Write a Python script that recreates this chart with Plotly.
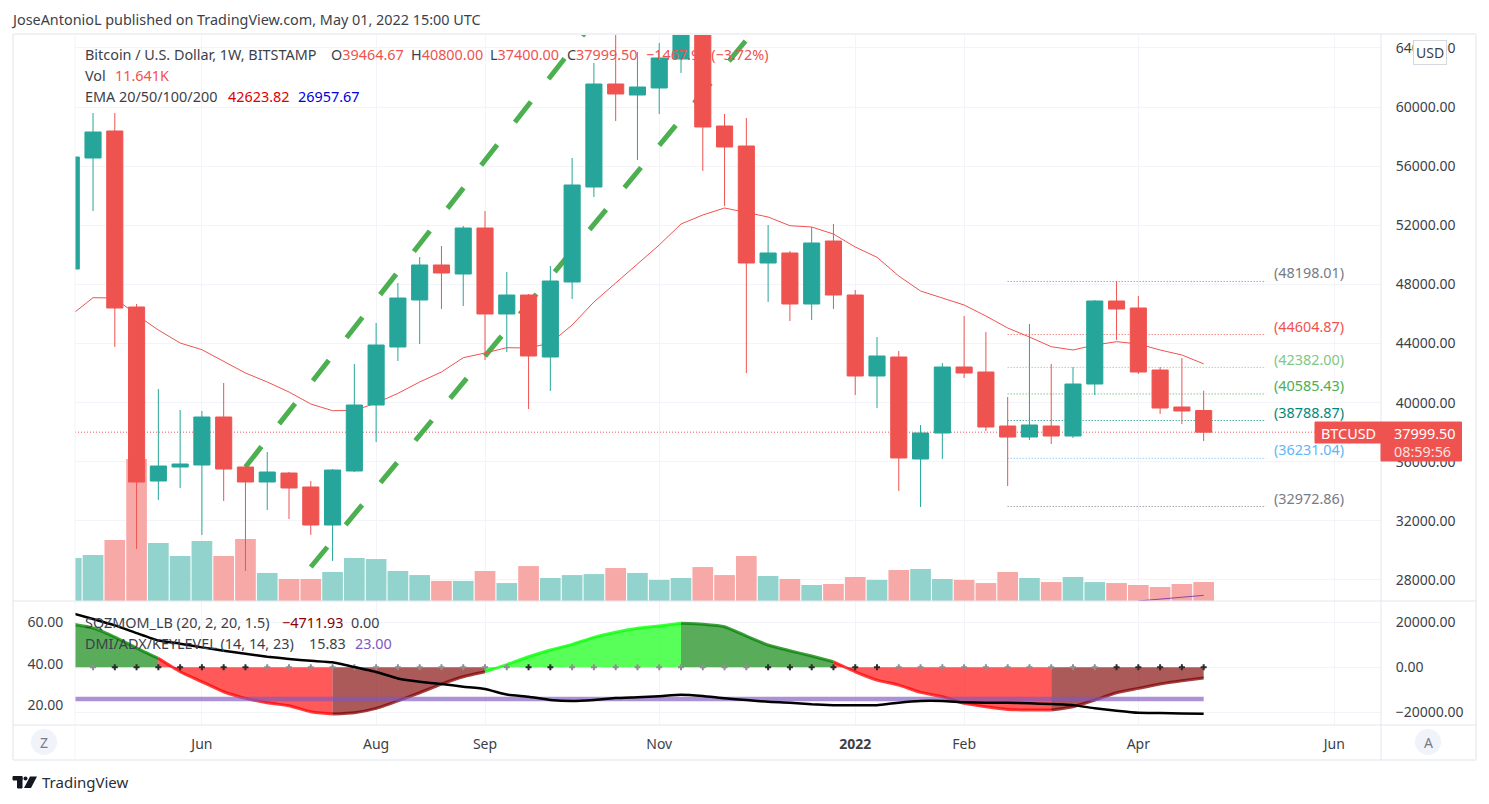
import numpy as np
from plotly.subplots import make_subplots
import plotly.graph_objects as go

FONT = "Noto Sans"
UP = "#26a69a"
DOWN = "#ef5350"
GRID = "#f2f4f9"
EDGE = "#e4e6ec"
TEXT = "#3c3f4a"

# open, high, low, close of every week, first one starts 2021-04-26
candles = [
    (49039, 57000, 48000, 56617), (56549, 59594, 52963, 58309), (58376, 59594, 43762, 46400),
    (46468, 46671, 30094, 34627), (34695, 40920, 33410, 35710), (35642, 39499, 34222, 35845),
    (35778, 39431, 31042, 39025), (39025, 41326, 33342, 35507), (35642, 35778, 28606, 34627),
    (34627, 36657, 32733, 35304), (35236, 35304, 32124, 34222), (34290, 34695, 31042, 31718),
    (31718, 35500, 29284, 35439), (35372, 42611, 35304, 39837), (39837, 45385, 37334, 43897),
    (43762, 48092, 42814, 47077), (46942, 49851, 43965, 49310), (49310, 50595, 46333, 48768),
    (48701, 51949, 46535, 51813), (51813, 52963, 42882, 45994), (45994, 48836, 43423, 47280),
    (47280, 47348, 39567, 43153), (43085, 49242, 40785, 48227), (48160, 56549, 47009, 54723),
    (54587, 62977, 53911, 61556), (61556, 66900, 59053, 60880), (60812, 63721, 56414, 61353),
    (61286, 64330, 59526, 63315), (63248, 66000, 62300, 65500), (65500, 69000, 55670, 58647),
    (58714, 59526, 53302, 57294), (57361, 59256, 42002, 49445), (49445, 52016, 46806, 50122),
    (50122, 50257, 45521, 46671), (46671, 51881, 45589, 50798), (50933, 52084, 46333, 47280),
    (47280, 47618, 40514, 41800), (41800, 44438, 39634, 43153), (43085, 43491, 34019, 36252),
    (36184, 38484, 32936, 37943), (37943, 42679, 36184, 42408), (42408, 45859, 41664, 42002),
    (42070, 44776, 38078, 38349), (38416, 40379, 34357, 37672), (37672, 45318, 37469, 38484),
    (38416, 42611, 37199, 37740), (37740, 42408, 37604, 41258), (41258, 46942, 40514, 46874),
    (46874, 48227, 44236, 46333), (46400, 47212, 41935, 42070), (42205, 42408, 39229, 39634),
    (39702, 43017, 38552, 39431), (39464.67, 40800, 37400, 37999.50),
]
volume = [26.3, 28.2, 37.4, 87.0, 35.5, 27.6, 36.8, 27.6, 38.0, 17.2, 13.5, 13.5, 17.8,
          26.3, 25.7, 18.4, 15.9, 12.3, 12.3, 18.4, 11.0, 21.4, 14.1, 15.9, 16.5, 20.2,
          17.2, 12.9, 14.1, 20.8, 15.9, 27.6, 15.3, 13.5, 9.8, 10.4, 14.7, 12.9, 19.0,
          19.6, 13.5, 12.9, 11.0, 17.8, 14.1, 11.6, 14.7, 11.6, 11.0, 9.8, 8.6, 10.4, 11.641]
ema20 = [45927, 47097, 47077, 45927, 44912, 44032, 43579, 42815, 42002, 41394, 40717, 39905,
         39452, 39465, 39973, 40622, 41394, 42070, 43037, 43356, 43714, 43694, 44032, 45250,
         46807, 48092, 49377, 50663, 52084, 52693, 53166, 52850, 52557, 51969, 51881, 51407,
         50528, 49831, 48565, 47551, 47077, 46603, 45859, 45047, 44438, 43782, 43559, 43897,
         44121, 43965, 43559, 43220, 42623.82]
momentum = [19243, 17466, 13465, 8577, 4000, -1955, -6400, -10844, -13776, -15732, -17065,
            -19731, -20753, -20176, -18220, -14843, -11288, -7421, -4177, -1955, 1244, 4711,
            7688, 10221, 13332, 15554, 17332, 18354, 19554, 19110, 18043, 13910, 9910, 7377,
            5022, 2489, -1955, -5644, -7866, -11110, -13065, -15998, -17509, -18665, -18976,
            -18976, -17509, -14532, -11288, -9332, -7421, -5955, -4711.93]
adx = [64.5, 61.6, 58.5, 54.8, 51.2, 49.7, 47.9, 46.3, 44.8, 43.4, 42.3, 41.4, 40.7, 38.4,
       36.0, 32.9, 31.3, 30.2, 28.9, 27.8, 25.1, 24.1, 22.5, 22.0, 22.5, 23.4, 23.8, 24.3,
       25.0, 24.4, 23.3, 22.5, 21.6, 21.2, 20.4, 20.0, 20.0, 20.0, 21.2, 22.0, 22.0, 21.4,
       21.2, 21.2, 20.9, 20.5, 20.0, 18.5, 17.3, 16.3, 16.2, 16.0, 15.83]
# 1 black cross, 0 grey cross
squeeze = [0, 0, 1, 1, 1, 1, 1, 1, 1, 0, 0, 0, 0, 0, 0, 0, 0, 0, 0, 0, 0, 1, 1, 0, 0, 0, 0, 0,
           0, 0, 0, 0, 1, 1, 1, 1, 1, 1, 0, 0, 0, 0, 0, 0, 0, 0, 0, 0, 1, 1, 1, 1, 1]
# first, last index and colours of the momentum area
runs = [(0, 4, "0,128,0"), (4, 12, "255,0,0"), (12, 19, "128,0,0"), (19, 28, "0,255,0"),
        (28, 35, "0,128,0"), (35, 45, "255,0,0"), (45, 52, "128,0,0")]
levels = [(48198.01, "#787b86"), (44604.87, "#ef5350"), (42382.00, "#81c784"),
          (40585.43, "#4caf50"), (38788.87, "#00897b"), (36231.04, "#64b5f6"),
          (32972.86, "#787b86")]
month_ticks = ["2021-06-07", "2021-08-02", "2021-09-06", "2021-11-01", "2022-01-03",
               "2022-02-07", "2022-04-04", "2022-06-06"]
month_names = ["Jun", "Aug", "Sep", "Nov", "<b>2022</b>", "Feb", "Apr", "Jun"]


def px(x):
    return (x - 8) / 1473


def py(y):
    return 1 - (y - 8) / 788


def note(fig, x, y, text, color=TEXT, size=14.4, anchor="left"):
    fig.add_annotation(xref="paper", yref="paper", x=px(x), y=py(y), text=text, showarrow=False,
                       xanchor=anchor, yanchor="middle", xshift=-2 if anchor == "left" else 0,
                       font=dict(family=FONT, size=size, color=color))


def box(fig, x0, y0, x1, y1, color, line=None):
    fig.add_shape(type="rect", xref="paper", yref="paper", x0=px(x0), y0=py(y0), x1=px(x1),
                  y1=py(y1), fillcolor=color, line=dict(color=line or color, width=1))


def rule(fig, x0, y0, x1, y1, width=1, color=EDGE):
    fig.add_shape(type="line", xref="paper", yref="paper", x0=px(x0), y0=py(y0), x1=px(x1),
                  y1=py(y1), line=dict(color=color, width=width))


def plot_chart(weeks):
    x_start, x_end = "2021-04-27 05:00", "2022-06-21"
    opens, highs, lows, closes = zip(*candles)
    fig = make_subplots(rows=2, cols=1, shared_xaxes=True, vertical_spacing=0)

    # volume stays at the back, the candles go on an overlay so they cover the lines
    fig.add_trace(go.Bar(x=weeks, y=volume, yaxis="y", xaxis="x",
                         marker=dict(color=["#92d3cd" if c >= o else "#f7a9a7"
                                            for o, c in zip(opens, closes)], line_width=0)))
    for level, color in levels:
        fig.add_trace(go.Scatter(x=["2022-02-21", "2022-05-15"], y=[level, level], yaxis="y3",
                                 xaxis="x", mode="lines",
                                 line=dict(color=color, width=1, dash="1px,2px")))
    fig.add_trace(go.Scatter(x=[x_start, x_end], y=[37999.50, 37999.50], yaxis="y3", xaxis="x",
                             mode="lines", line=dict(color=DOWN, width=1, dash="1px,2px")))
    # the two trend lines
    for x_pair, y_pair in [(["2021-06-21", "2021-10-11"], [35642, 65819]),
                           (["2021-07-12", "2021-11-29"], [28876, 64533])]:
        fig.add_trace(go.Scatter(x=x_pair, y=y_pair, yaxis="y3", xaxis="x", mode="lines",
                                 line=dict(color="#4caf50", width=5, dash="26px,28.7px")))
    fig.add_trace(go.Scatter(x=weeks, y=ema20, yaxis="y3", xaxis="x", mode="lines",
                             line=dict(color=DOWN, width=1)))
    fig.add_trace(go.Scatter(x=weeks[49:], y=[26578, 26710, 26847, 26957.67], yaxis="y3",
                             xaxis="x", mode="lines", line=dict(color="#8e44ad", width=1)))
    fig.add_trace(go.Candlestick(x=weeks, open=opens, high=highs, low=lows, close=closes,
                                 yaxis="y4", xaxis="x", whiskerwidth=0,
                                 increasing=dict(line=dict(color=UP, width=1), fillcolor=UP),
                                 decreasing=dict(line=dict(color=DOWN, width=1), fillcolor=DOWN)))

    # lower pane
    for first, last, rgb in runs:
        fig.add_trace(go.Scatter(x=weeks[first:last + 1], y=momentum[first:last + 1], yaxis="y2",
                                 xaxis="x2", mode="lines", fill="tozeroy",
                                 fillcolor=f"rgba({rgb},0.65)",
                                 line=dict(color=f"rgba({rgb},0.75)", width=3, shape="spline",
                                           smoothing=0.5)))
    fig.add_trace(go.Scatter(x=weeks, y=[0] * len(weeks), yaxis="y2", xaxis="x2", mode="markers",
                             marker=dict(symbol="cross", size=5, line_width=0,
                                         color=["#2b2b2b" if s else "#8f8f8f" for s in squeeze])))
    fig.add_trace(go.Scatter(x=[x_start, weeks[-1]], y=[23, 23], yaxis="y5", xaxis="x2",
                             mode="lines", line=dict(color="rgba(126,87,194,0.65)", width=4.5)))
    fig.add_trace(go.Scatter(x=weeks, y=adx, yaxis="y5", xaxis="x2", mode="lines",
                             line=dict(color="black", width=2.5, shape="spline", smoothing=0.4)))

    top = [py(601), py(34)]
    low = [py(725), py(601)]
    price_range = [26576, 64939]
    fig.update_layout(width=1473, height=788, margin=dict(l=0, r=0, t=0, b=0),
                      paper_bgcolor="white", plot_bgcolor="white", showlegend=False,
                      bargap=0.05, boxgap=0.26, boxgroupgap=0,
                      font=dict(family=FONT, size=14, color=TEXT),
                      xaxis=dict(domain=[px(75), px(1381)], range=[x_start, x_end], type="date",
                                 tickvals=month_ticks, ticktext=month_names, showticklabels=False,
                                 showgrid=True, gridcolor=GRID, zeroline=False,
                                 rangeslider=dict(visible=False)),
                      xaxis2=dict(domain=[px(75), px(1381)], range=[x_start, x_end], type="date",
                                  matches="x", tickvals=month_ticks, ticktext=month_names,
                                  showgrid=True, gridcolor=GRID, zeroline=False, ticks="outside",
                                  ticklen=6, tickcolor="rgba(0,0,0,0)"),
                      yaxis=dict(domain=top, range=[0, 347.4], visible=False),
                      yaxis2=dict(domain=low, range=[-25600, 29467], side="right", anchor="x2",
                                  tickvals=[-20000, 0, 20000], tickformat=".2f",
                                  tickprefix="", showgrid=True, gridcolor=GRID, zeroline=False,
                                  ticks="outside", ticklen=11, tickcolor="rgba(0,0,0,0)"),
                      yaxis3=dict(domain=top, range=price_range, overlaying="y", side="right",
                                  anchor="x", tickvals=list(range(28000, 68000, 4000)),
                                  tickformat=".2f", showgrid=True, gridcolor=GRID, zeroline=False,
                                  ticks="outside", ticklen=11, tickcolor="rgba(0,0,0,0)"),
                      yaxis4=dict(domain=top, range=price_range, overlaying="y", visible=False,
                                  anchor="x"),
                      yaxis5=dict(domain=low, range=[10.4, 70.3], overlaying="y2", side="left",
                                  anchor="x2", tickvals=[20, 40, 60], tickformat=".2f",
                                  showgrid=False, zeroline=False, ticks="outside", ticklen=8,
                                  tickcolor="rgba(0,0,0,0)"))

    # frame of the widget
    rule(fig, 13, 34, 1476, 34, 2, "#f0f1f4")
    rule(fig, 13, 760, 1476, 760, 2, "#f0f1f4")
    rule(fig, 13, 34, 13, 760, 2, "#f0f1f4")
    rule(fig, 1476, 34, 1476, 760, 2, "#f0f1f4")
    rule(fig, 13, 601, 1476, 601)
    rule(fig, 13, 725, 1476, 725)
    rule(fig, 1381, 34, 1381, 760)
    rule(fig, 75, 34, 75, 760, 1, "#f2f4f9")

    # levels on the right of the chart
    for (level, color), y in zip(levels, [273, 326, 359, 385, 412, 450, 498]):
        note(fig, 1274, y, f"({level:.2f})", color)

    # price tag
    box(fig, 1315, 422, 1461.5, 443, DOWN)
    box(fig, 1381, 443, 1461.5, 461, DOWN)
    note(fig, 1321, 433, "BTCUSD", "white")
    note(fig, 1394, 433, "37999.50", "white")
    note(fig, 1394, 451, "08:59:56", "#fde0df")

    # header and legends
    note(fig, 11, 19, "JoseAntonioL published on TradingView.com, May 01, 2022 15:00 UTC")
    note(fig, 85, 54, "Bitcoin / U.S. Dollar, 1W, BITSTAMP")
    for x, head, value in [(331, "O", "39464.67"), (411, "H", "40800.00"),
                           (490, "L", "37400.00"), (567, "C", "37999.50")]:
        note(fig, x, 54, f'{head}<span style="color:{DOWN}">{value}</span>')
    note(fig, 646, 54, "−1467.92 (−3.72%)", DOWN)
    note(fig, 85, 75, "Vol")
    note(fig, 115, 75, "11.641K", DOWN)
    note(fig, 85, 96, "EMA 20/50/100/200")
    note(fig, 228, 96, "42623.82", "#e00000")
    note(fig, 298, 96, "26957.67", "#0000e0")
    note(fig, 85, 622, "SQZMOM_LB (20, 2, 20, 1.5)")
    note(fig, 282, 622, "−4711.93", "#8b0000")
    note(fig, 351, 622, "0.00")
    note(fig, 85, 643, "DMI/ADX/KEYLEVEL (14, 14, 23)")
    note(fig, 309, 643, "15.83")
    note(fig, 355, 643, "23.00", "#7e57c2")

    # buttons
    fig.add_shape(type="circle", xref="paper", yref="paper", x0=px(31), x1=px(57), y0=py(755),
                  y1=py(729), fillcolor="#f0f3fa", line_width=0)
    fig.add_shape(type="circle", xref="paper", yref="paper", x0=px(1415), x1=px(1441), y0=py(755),
                  y1=py(729), fillcolor="#f0f3fa", line_width=0)
    note(fig, 44, 742, "Z", "#787b86", 14, "center")
    note(fig, 1428, 742, "A", "#787b86", 14, "center")
    fig.add_annotation(xref="paper", yref="paper", x=px(1430), y=py(53), text="USD", showarrow=False,
                       xanchor="center", yanchor="middle",
                       bgcolor="white", bordercolor="#d6d8df", borderwidth=1, borderpad=2,
                       font=dict(family=FONT, size=14, color=TEXT))

    # logo
    box(fig, 13, 776.5, 22, 780, "#131722")
    box(fig, 17.5, 776.5, 22, 788, "#131722")
    fig.add_shape(type="circle", xref="paper", yref="paper", x0=px(23.5), x1=px(27.5), y0=py(780.5),
                  y1=py(776.5), fillcolor="#131722", line_width=0)
    fig.add_shape(type="path", xref="paper", yref="paper", fillcolor="#131722", line_width=0,
                  path=f"M {px(30)} {py(776.5)} L {px(37)} {py(776.5)} L {px(31)} {py(788)} "
                       f"L {px(24)} {py(788)} Z")
    note(fig, 42, 782, "TradingView", "#2a2e39", 15)
    return fig


if __name__ == "__main__":
    weeks = [str(d) for d in np.arange(np.datetime64("2021-04-26"), np.datetime64("2022-05-01"),
                                       np.timedelta64(7, "D"))]
    fig = plot_chart(weeks)
    fig.write_html("out.html")
